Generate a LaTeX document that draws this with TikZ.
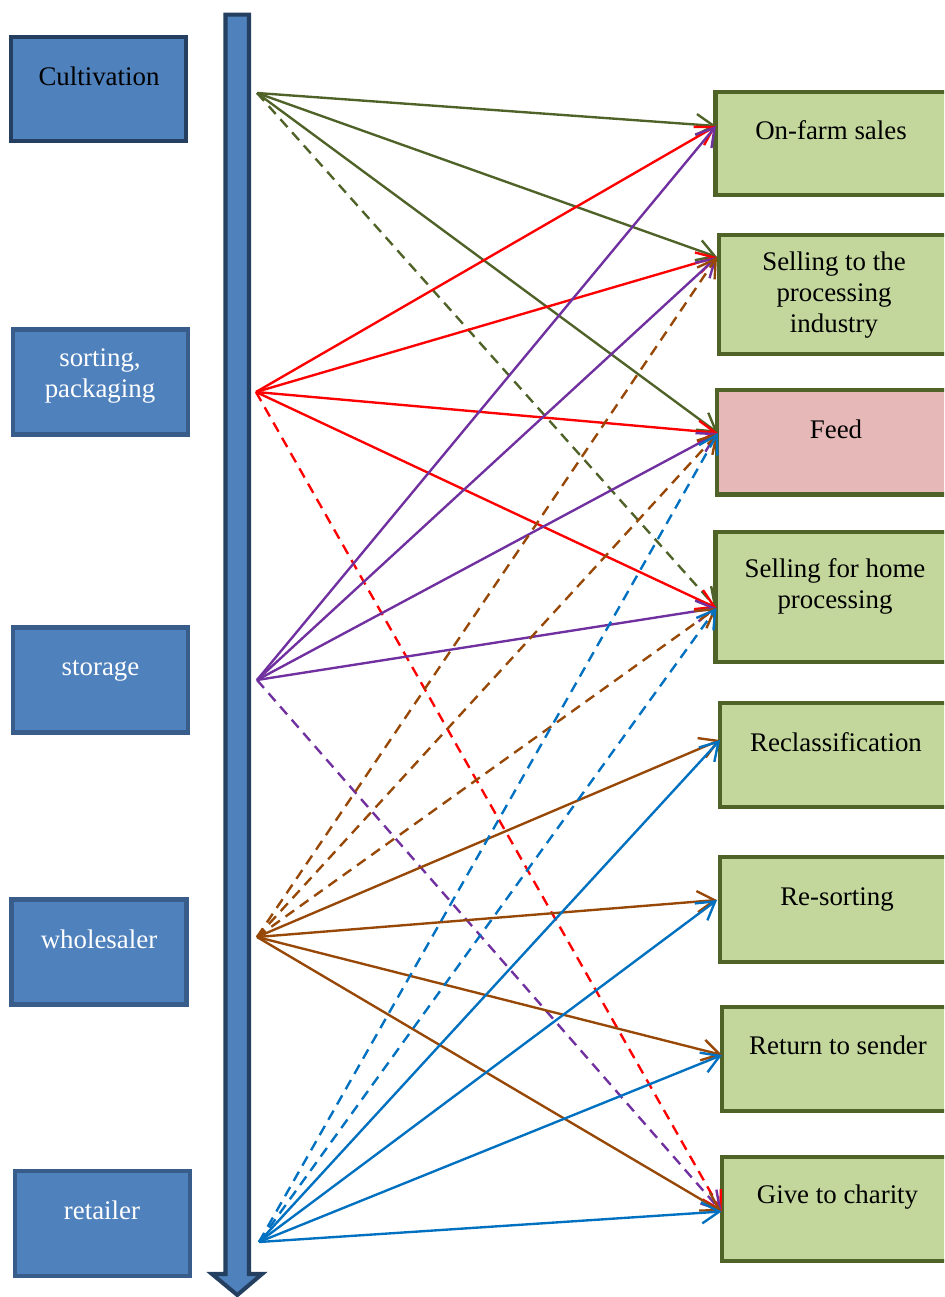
\documentclass[tikz,border=0pt]{standalone}
\usepackage{fontspec}
\setmainfont{Liberation Serif}
\usetikzlibrary{arrows.meta,positioning}
\newlength\pxu
\setlength\pxu{0.02cm}
\definecolor{boxblue}{HTML}{4F81BD}
\definecolor{navyline}{HTML}{243F60}
\definecolor{blueline}{HTML}{385D8A}
\definecolor{boxgreen}{HTML}{C3D69B}
\definecolor{boxpink}{HTML}{E6B9B8}
\definecolor{olive}{HTML}{4F6228}
\definecolor{flowred}{HTML}{FF0000}
\definecolor{flowpurple}{HTML}{7030A0}
\definecolor{flowbrown}{HTML}{974806}
\definecolor{flowblue}{HTML}{0070C0}
\begin{document}
\begin{tikzpicture}[x=0.02cm, y=-0.02cm,
  stage/.style={draw=blueline, fill=boxblue, line width=2.3pt, outer sep=0pt, minimum width=175\pxu, minimum height=105\pxu},
  fate/.style={draw=olive, fill=boxgreen, line width=2.3pt, outer sep=0pt, anchor=west, minimum width=245\pxu, minimum height=104\pxu},
  lbl/.style={font=\fontsize{15.3}{17.6}\selectfont, align=center, inner sep=0pt},
  flow/.style={-{Straight Barb[length=10pt,width=12pt]}, line width=1.35pt},
  dashflow/.style={flow, dash pattern=on 6pt off 4pt},
]
\useasboundingbox (0,0) rectangle (944,1297);
\clip (0,0) rectangle (944,1297);

% time bar
\draw[draw=navyline, fill=boxblue, line width=2.3pt] (225.5,14.7) -- (249,14.7) -- (249,1274) -- (262,1274) -- (237.3,1295) -- (212,1274) -- (225.5,1274) -- cycle;

% left: stages
\node[stage, draw=navyline, minimum height=104.3\pxu] (cult) at (98.8,89.2) {};
\node[stage] (sort) at (100.8,382) {};
\node[stage] (store) at (100.5,680) {};
\node[stage] (whole) at (99,952) {};
\node[stage] (retail) at (102.5,1223.5) {};

\node[lbl, anchor=base] (cultTxt) at (99,86) {Cultivation};
\node[lbl, anchor=north, text=white] (sortTxt) at (100,348.6) {sorting,\\packaging};
\node[lbl, anchor=base, text=white] (storeTxt) at (100.5,675) {storage};
\node[lbl, anchor=base, text=white] (wholeTxt) at (99,948) {wholesaler};
\node[lbl, anchor=base, text=white] (retailTxt) at (102,1219) {retailer};

% right: where the produce goes
\node[fate, minimum height=103.3\pxu] (farm) at (715.5,143.7) {};
\node[fate, minimum height=118.4\pxu] (proc) at (718.8,294.5) {};
\node[fate, fill=boxpink, minimum height=104.2\pxu] (feed) at (717.2,442.4) {};
\node[fate, minimum height=130\pxu] (home) at (715.5,597.2) {};
\node[fate] (recl) at (720,755) {};
\node[fate, minimum height=105\pxu] (resort) at (720,909.5) {};
\node[fate] (return) at (722,1059) {};
\node[fate] (charity) at (722.2,1209.3) {};

\node[lbl, anchor=base] (farmTxt) at (831,140) {On-farm sales};
\node[lbl, anchor=north] (procTxt) at (834,251.6) {Selling to the\\processing\\industry};
\node[lbl, anchor=base] (feedTxt) at (836,438) {Feed};
\node[lbl, anchor=north] (homeTxt) at (835,558.6) {Selling for home\\processing};
\node[lbl, anchor=base] (reclTxt) at (836,751) {Reclassification};
\node[lbl, anchor=base] (resortTxt) at (837,905) {Re-sorting};
\node[lbl, anchor=base] (returnTxt) at (838,1054) {Return to sender};
\node[lbl, anchor=base] (charityTxt) at (837.5,1203) {Give to charity};

% ends of the arrows
\coordinate (cultOut) at (257,93);
\coordinate (sortOut) at (256,392);
\coordinate (storeOut) at (257,680);
\coordinate (wholeOut) at (257,937);
\coordinate (retailOut) at (259,1242);
\coordinate (farmIn) at (716,126);
\coordinate (procIn) at (717,257);
\coordinate (feedIn) at (718,433);
\coordinate (homeIn) at (716.5,608);
\coordinate (reclIn) at (720,740);
\coordinate (resortIn) at (717,900);
\coordinate (returnIn) at (722,1055);
\coordinate (charityIn) at (721.5,1211.5);

% cultivation
\draw[flow, olive] (cultOut) -- (farmIn);
\draw[flow, olive] (cultOut) -- (procIn);
\draw[flow, olive] (cultOut) -- (feedIn);
\draw[dashflow, olive] (cultOut) -- (homeIn);

% sorting, packaging
\draw[flow, flowred] (sortOut) -- (farmIn);
\draw[flow, flowred] (sortOut) -- (procIn);
\draw[flow, flowred] (sortOut) -- (feedIn);
\draw[flow, flowred] (sortOut) -- (homeIn);
\draw[dashflow, flowred] (sortOut) -- (charityIn);

% storage
\draw[flow, flowpurple] (storeOut) -- (farmIn);
\draw[flow, flowpurple] (storeOut) -- (procIn);
\draw[flow, flowpurple] (storeOut) -- (feedIn);
\draw[flow, flowpurple] (storeOut) -- (homeIn);
\draw[dashflow, flowpurple] (storeOut) -- (charityIn);

% wholesaler
\draw[dashflow, flowbrown] (wholeOut) -- (procIn);
\draw[dashflow, flowbrown] (wholeOut) -- (feedIn);
\draw[dashflow, flowbrown] (wholeOut) -- (homeIn);
\draw[flow, flowbrown] (wholeOut) -- (reclIn);
\draw[flow, flowbrown] (wholeOut) -- (resortIn);
\draw[flow, flowbrown] (wholeOut) -- (returnIn);
\draw[flow, flowbrown] (wholeOut) -- (charityIn);

% retailer
\draw[dashflow, flowblue] (retailOut) -- (feedIn);
\draw[dashflow, flowblue] (retailOut) -- (homeIn);
\draw[flow, flowblue] (retailOut) -- (reclIn);
\draw[flow, flowblue] (retailOut) -- (resortIn);
\draw[flow, flowblue] (retailOut) -- (returnIn);
\draw[flow, flowblue] (retailOut) -- (charityIn);

\end{tikzpicture}
\end{document}
